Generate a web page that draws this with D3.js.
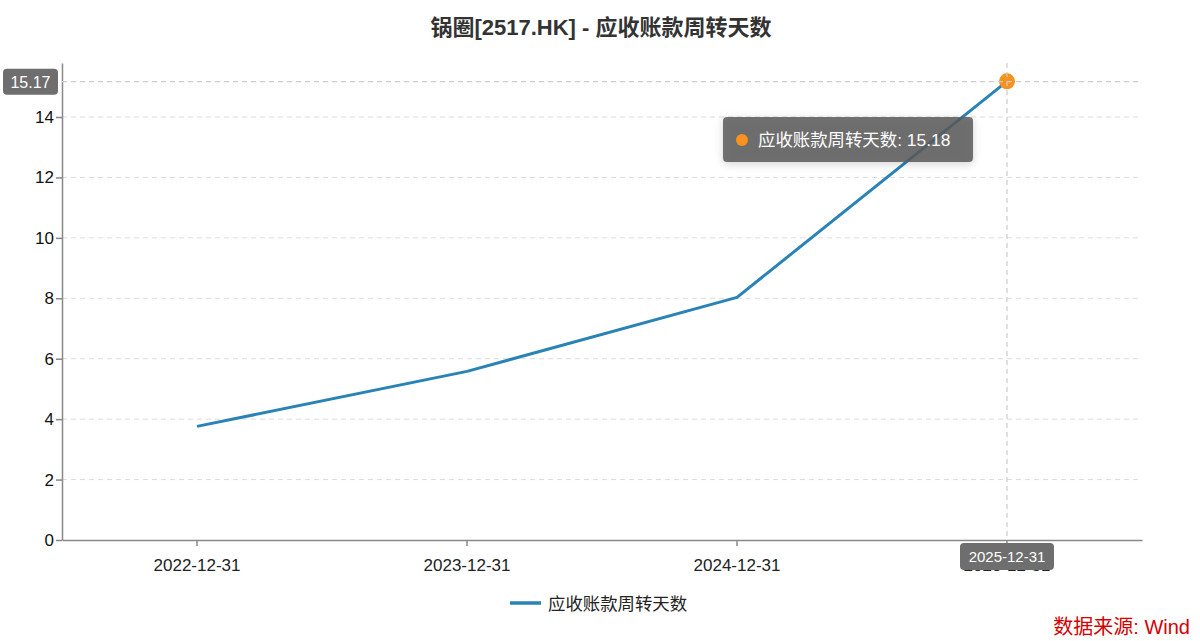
<!DOCTYPE html>
<html>
<head>
<meta charset="utf-8">
<script src="https://cdn.jsdelivr.net/npm/d3@7"></script>
<style>
  html, body { margin: 0; padding: 0; background: #fff; }
  body { font-family: "Liberation Sans", Arial, "Noto Sans CJK SC", sans-serif; }
</style>
</head>
<body>
<div id="chart"></div>
<script>
// chart data
const categories = ["2022-12-31", "2023-12-31", "2024-12-31", "2025-12-31"];
const turnoverDays = [3.76, 5.58, 8.03, 15.18];
const yTicks = [0, 2, 4, 6, 8, 10, 12, 14];
const seriesName = "应收账款周转天数";
const chartTitle = "锅圈[2517.HK] - 应收账款周转天数";
const hoverIndex = 3;
const pointerValue = 15.17;

const W = 1200, H = 641;
const margin = { top: 63, right: 58, bottom: 101, left: 62 };
const width = W - margin.left - margin.right;
const height = H - margin.top - margin.bottom;
const font = '"Liberation Sans", Arial, "Noto Sans CJK SC", sans-serif';

const svg = d3.select("#chart").append("svg")
  .attr("width", W).attr("height", H)
  .style("font-family", font);

svg.append("text")
  .attr("x", W / 2 + 1).attr("y", 35)
  .attr("text-anchor", "middle")
  .attr("font-size", "22px").attr("font-weight", "bold")
  .attr("fill", "#333")
  .text(chartTitle);

const g = svg.append("g").attr("transform", `translate(${margin.left},${margin.top})`);

const x = d3.scaleBand().domain(categories).range([0, width]);
const y = d3.scaleLinear()
  .domain([0, d3.max(turnoverDays) * 1.04])
  .range([height, 0]);

// grid
g.append("g")
  .selectAll("line")
  .data(yTicks.filter(d => d > 0))
  .join("line")
  .attr("x1", 0).attr("x2", width)
  .attr("y1", d => y(d)).attr("y2", d => y(d))
  .attr("stroke", "#dcdcdc").attr("stroke-dasharray", "5,4");

// y axis
const yAxis = g.append("g")
  .call(d3.axisLeft(y).tickValues(yTicks).tickSize(6).tickSizeOuter(0).tickPadding(2));
yAxis.select(".domain").attr("stroke", "#888").attr("stroke-width", 1.5);
yAxis.selectAll(".tick line").attr("stroke", "#888").attr("stroke-width", 1.5);
yAxis.selectAll(".tick text").attr("font-size", "17px").attr("fill", "#111").attr("font-family", font);

// x axis
const xAxis = g.append("g")
  .attr("transform", `translate(0,${height})`)
  .call(d3.axisBottom(x).tickSize(6).tickSizeOuter(0).tickPadding(13));
xAxis.select(".domain").attr("stroke", "#888").attr("stroke-width", 1.5);
xAxis.selectAll(".tick line").attr("stroke", "#888").attr("stroke-width", 1.5);
xAxis.selectAll(".tick text").attr("font-size", "17px").attr("fill", "#222").attr("font-family", font);

const cx = d => x(d) + x.bandwidth() / 2;

// line
const line = d3.line()
  .x((d, i) => cx(categories[i]))
  .y(d => y(d));

g.append("path")
  .datum(turnoverDays)
  .attr("fill", "none")
  .attr("stroke", "#2a83b5")
  .attr("stroke-width", 3)
  .attr("stroke-linejoin", "round")
  .attr("d", line);

// hovered point
const hx = cx(categories[hoverIndex]);
const hy = y(turnoverDays[hoverIndex]);
g.append("circle")
  .attr("cx", hx).attr("cy", hy).attr("r", 8)
  .attr("fill", "#f7921e");

// crosshair
const py = y(pointerValue);
g.append("line")
  .attr("x1", 0).attr("x2", width).attr("y1", py).attr("y2", py)
  .attr("stroke", "#ccc").attr("stroke-dasharray", "5,4").attr("stroke-width", 1.2);
g.append("line")
  .attr("x1", hx).attr("x2", hx).attr("y1", 0).attr("y2", height)
  .attr("stroke", "#ccc").attr("stroke-dasharray", "5,4").attr("stroke-width", 1.2);

// pointer labels
const yLab = svg.append("g").attr("transform", `translate(3,${margin.top + py - 13})`);
yLab.append("rect").attr("width", 55).attr("height", 26).attr("rx", 4).attr("fill", "#6e6e6e");
yLab.append("text").attr("x", 27.5).attr("y", 19).attr("text-anchor", "middle")
  .attr("font-size", "16px").attr("fill", "#fff").text(pointerValue.toFixed(2));

const xLab = svg.append("g").attr("transform", `translate(${margin.left + hx - 47},${margin.top + height + 3})`);
xLab.append("rect").attr("width", 94).attr("height", 27).attr("rx", 4).attr("fill", "#6e6e6e");
xLab.append("text").attr("x", 47).attr("y", 19).attr("text-anchor", "middle")
  .attr("font-size", "15px").attr("fill", "#fff").text(categories[hoverIndex]);

// tooltip
const tip = svg.append("g").attr("transform", "translate(723,117)");
tip.append("rect").attr("width", 250).attr("height", 45).attr("rx", 4)
  .attr("fill", "rgba(90,90,90,0.85)")
  .style("filter", "drop-shadow(0px 2px 4px rgba(0,0,0,0.2))");
tip.append("circle").attr("cx", 19).attr("cy", 23).attr("r", 6).attr("fill", "#f7921e");
tip.append("text").attr("x", 35).attr("y", 29)
  .attr("font-size", "17.4px").attr("fill", "#fff")
  .text(`${seriesName}: ${turnoverDays[hoverIndex].toFixed(2)}`);

// legend
const leg = svg.append("g").attr("transform", "translate(510,603)");
leg.append("line").attr("x1", 0).attr("x2", 31).attr("y1", 0).attr("y2", 0)
  .attr("stroke", "#2a83b5").attr("stroke-width", 3.5);
leg.append("text").attr("x", 38).attr("y", 7)
  .attr("font-size", "17.4px").attr("fill", "#222").text(seriesName);

// source
svg.append("text")
  .attr("x", 1190).attr("y", 634)
  .attr("text-anchor", "end")
  .attr("font-size", "20px").attr("fill", "#d40000")
  .text("数据来源: Wind");
</script>
</body>
</html>
